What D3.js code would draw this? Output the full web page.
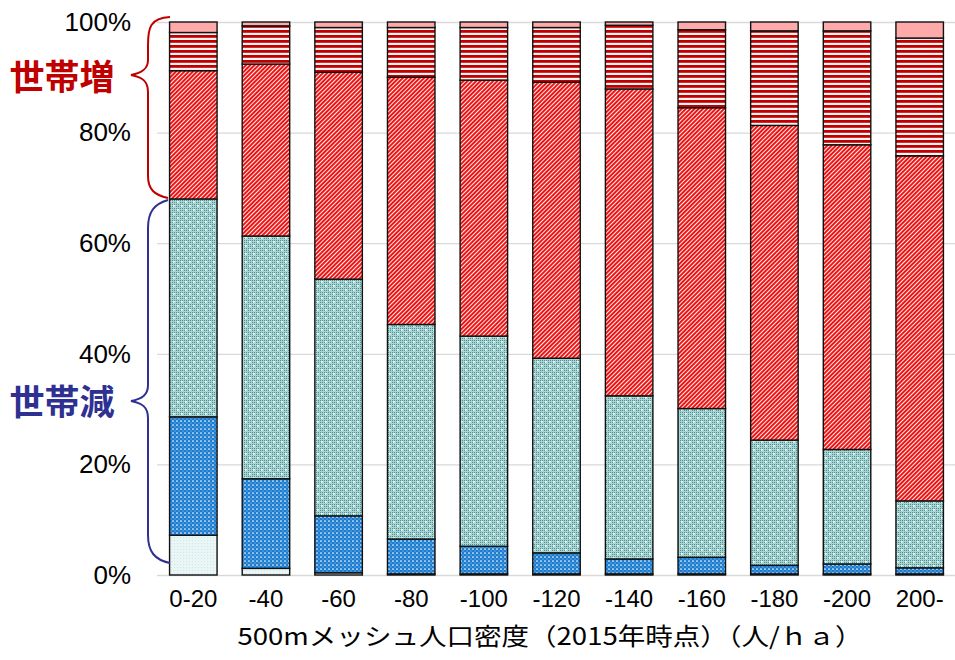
<!DOCTYPE html>
<html><head><meta charset="utf-8">
<script src="https://cdn.jsdelivr.net/npm/d3@7"></script>
<style>body{margin:0;background:#fff}svg{display:block}</style>
</head><body><svg id="c" width="955" height="660"></svg>
<script>
const categories = ["0-20","-40","-60","-80","-100","-120","-140","-160","-180","-200","200-"];
const seriesKeys = ["大幅減","減少","微減","微増","増加","大幅増"];
const bigDecrease   = [7.2,1.2,0.4,0.2,0.2,0.2,0.2,0.2,0.2,0.2,0.2];
const decrease      = [21.4,16.2,10.3,6.3,5.0,3.8,2.7,3.0,1.55,1.8,1.1];
const smallDecrease = [39.4,43.9,42.8,38.8,38.0,35.2,29.5,26.9,22.65,20.7,12.1];
const smallIncrease = [23.2,31.1,37.4,44.7,46.3,49.9,55.5,54.4,56.9,55.1,62.4];
const increase      = [6.9,6.9,8.1,9.0,9.5,9.9,11.5,14.1,17.1,20.6,21.3];
const bigIncrease   = [1.9,0.7,1.0,1.0,1.0,1.0,0.6,1.4,1.6,1.6,2.9];
const yTicks = [0,0.2,0.4,0.6,0.8,1.0];
const xTitle = "500mメッシュ人口密度（2015年時点）（人/ｈａ）";
const groupUp = "世帯増", groupDown = "世帯減";

const seriesArrays = [bigDecrease,decrease,smallDecrease,smallIncrease,increase,bigIncrease];
const rows = categories.map((c,i)=>{const r={cat:c}; seriesKeys.forEach((k,j)=>r[k]=seriesArrays[j][i]/100); return r;});

const svg = d3.select("#c");
const x = d3.scaleBand().domain(categories).range([157,956]).paddingInner(0.346).paddingOuter(0.173);
const y = d3.scaleLinear().domain([0,1]).range([575,22]);

const defs = svg.append("defs");
// light
let p = defs.append("pattern").attr("id","pLight").attr("width",3).attr("height",3).attr("patternUnits","userSpaceOnUse");
p.append("rect").attr("width",3).attr("height",3).attr("fill","#eaf6f6");
p.append("rect").attr("width",1).attr("height",1).attr("fill","#cde6e6");
// blue
p = defs.append("pattern").attr("id","pBlue").attr("width",4).attr("height",4).attr("patternUnits","userSpaceOnUse");
p.append("rect").attr("width",4).attr("height",4).attr("fill","#1c7cd0");
p.append("circle").attr("cx",1).attr("cy",1).attr("r",0.85).attr("fill","#ffffff");
p.append("circle").attr("cx",3).attr("cy",3).attr("r",0.7).attr("fill","#7db9e8");
// teal
p = defs.append("pattern").attr("id","pTeal").attr("width",2).attr("height",2).attr("patternUnits","userSpaceOnUse");
p.append("rect").attr("width",2).attr("height",2).attr("fill","#a9d4d4");
p.append("rect").attr("width",1).attr("height",1).attr("fill","#4a9090");
p = defs.append("pattern").attr("id","pTealW").attr("width",8).attr("height",8).attr("patternUnits","userSpaceOnUse");
p.append("circle").attr("cx",2).attr("cy",2).attr("r",0.9).attr("fill","#ffffff");
p.append("circle").attr("cx",6).attr("cy",6).attr("r",0.9).attr("fill","#ffffff");
// red diagonal
p = defs.append("pattern").attr("id","pHatch").attr("width",3).attr("height",3).attr("patternUnits","userSpaceOnUse").attr("patternTransform","rotate(45)");
p.append("rect").attr("width",3).attr("height",3).attr("fill","#fff0f0");
p.append("rect").attr("width",2).attr("height",3).attr("fill","#ee1414");
// red horizontal
p = defs.append("pattern").attr("id","pStripe").attr("width",5).attr("height",5).attr("patternUnits","userSpaceOnUse");
p.append("rect").attr("width",5).attr("height",5).attr("fill","#fff4f4");
p.append("rect").attr("width",5).attr("height",2.8).attr("fill","#c00000");

const fills = ["url(#pLight)","url(#pBlue)","url(#pTeal)","url(#pHatch)","url(#pStripe)","#ffaaaa"];

// grid
const gy = svg.append("g").attr("transform","translate(157,0)")
  .call(d3.axisLeft(y).tickValues(yTicks).tickSize(-799).tickFormat(""));
gy.select(".domain").remove();
gy.selectAll("line").attr("stroke","#d9d9d9").attr("stroke-width",1.3);

// y labels
const yl = svg.append("g").attr("transform","translate(131,0)")
  .call(d3.axisLeft(y).tickValues(yTicks).tickSize(0).tickPadding(0).tickFormat(d3.format(".0%")));
yl.select(".domain").remove();
yl.selectAll("text").attr("font-family","'Liberation Sans',Arial,sans-serif").attr("font-size",26).attr("fill","#000");

// bars
const stack = d3.stack().keys(seriesKeys)(rows);
stack.forEach((layer,li)=>{
  const g = svg.append("g");
  g.selectAll("rect").data(layer).join("rect")
    .attr("x",d=>x(d.data.cat)).attr("width",x.bandwidth())
    .attr("y",d=>y(d[1])).attr("height",d=>y(d[0])-y(d[1]))
    .attr("fill",fills[li]).attr("stroke","#111").attr("stroke-width",1.4);
  if(li===2){
    g.selectAll("rect.w").data(layer).join("rect").attr("class","w")
      .attr("x",d=>x(d.data.cat)+1).attr("width",x.bandwidth()-2)
      .attr("y",d=>y(d[1])+1).attr("height",d=>Math.max(0,y(d[0])-y(d[1])-2))
      .attr("fill","url(#pTealW)");
  }
});

// x labels
const xa = svg.append("g").attr("transform","translate(0,590)")
  .call(d3.axisBottom(x).tickSize(0).tickPadding(0));
xa.select(".domain").remove();
xa.selectAll("text").attr("font-family","'Liberation Sans Narrow','Liberation Sans',sans-serif")
  .attr("font-size",24).attr("fill","#000").attr("dy","0.71em");

svg.append("text").attr("x",550).attr("y",645).attr("text-anchor","middle")
  .attr("font-family","'Noto Sans CJK JP',sans-serif").attr("font-size",24)
  .attr("textLength",625).attr("lengthAdjust","spacingAndGlyphs").attr("fill","#000").text(xTitle);

// braces
const red="#c00000", blue="#2e3192";
svg.append("path").attr("fill","none").attr("stroke",red).attr("stroke-width",2)
  .attr("d",`M170,17 C150,18 148,28 148,45 L148,60 C148,69 142,73 131,75 C142,77 148,81 148,92 L148,176 C148,189 154,195 168,198`);
svg.append("path").attr("fill","none").attr("stroke",blue).attr("stroke-width",2)
  .attr("d",`M168,200 C154,204 148,212 148,228 L148,385 C148,395 142,399 131,401 C142,403 148,407 148,418 L148,535 C148,552 155,560 170,563`);
svg.append("text").attr("x",62).attr("y",77).attr("text-anchor","middle").attr("dy","0.36em")
  .attr("font-family","'Noto Sans CJK JP',sans-serif").attr("font-weight","bold").attr("font-size",35)
  .attr("fill",red).text(groupUp);
svg.append("text").attr("x",62).attr("y",402).attr("text-anchor","middle").attr("dy","0.36em")
  .attr("font-family","'Noto Sans CJK JP',sans-serif").attr("font-weight","bold").attr("font-size",35)
  .attr("fill",blue).text(groupDown);
</script></body></html>
